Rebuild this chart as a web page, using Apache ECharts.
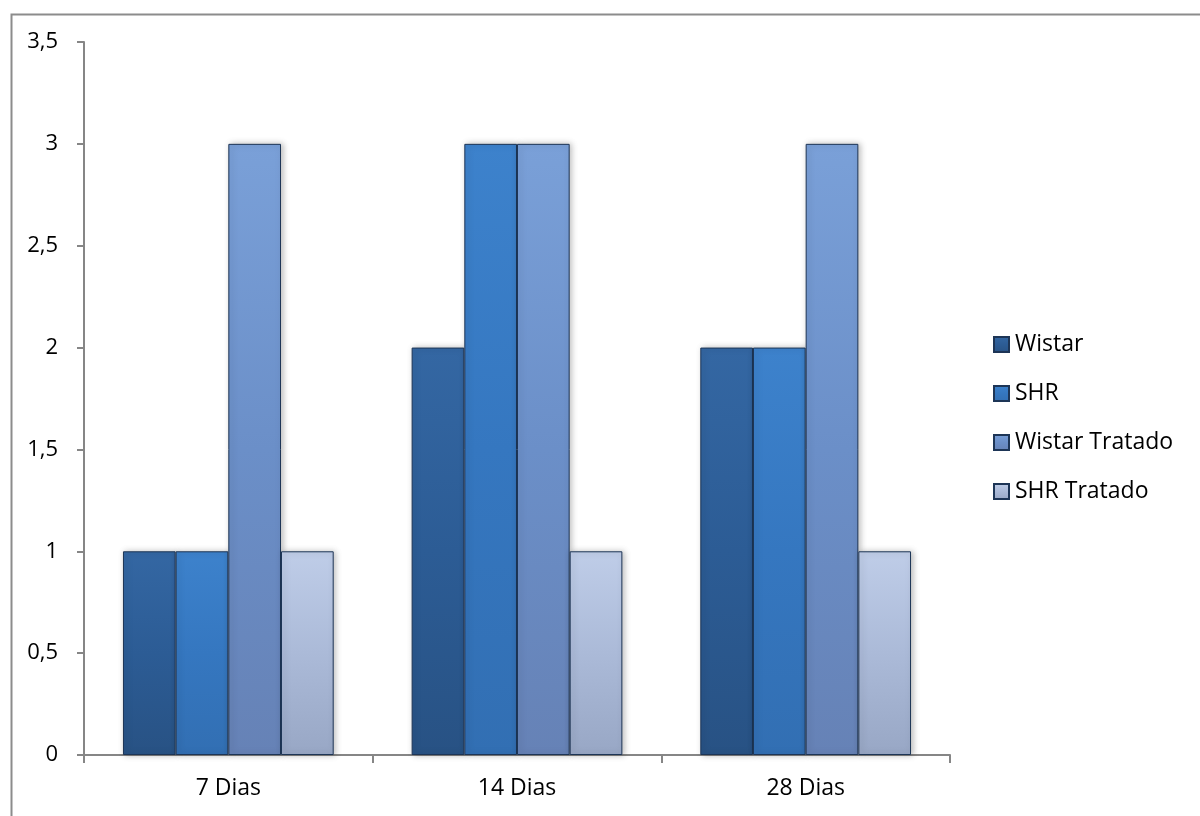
<!DOCTYPE html>
<html>
<head>
<meta charset="utf-8">
<script src="https://cdn.jsdelivr.net/npm/echarts@6/dist/echarts.min.js"></script>
<style>
html,body{margin:0;padding:0;background:#fff;}
#chart{width:1200px;height:816px;}
</style>
</head>
<body>
<div id="chart"></div>
<script>
const categories = ['7 Dias', '14 Dias', '28 Dias'];
const seriesNames = ['Wistar', 'SHR', 'Wistar Tratado', 'SHR Tratado'];
const wistar = [1, 2, 2];
const shr = [1, 3, 2];
const wistarTratado = [3, 3, 3];
const shrTratado = [1, 1, 1];
const yTicks = [0, 0.5, 1, 1.5, 2, 2.5, 3, 3.5];

const palettes = [
  ['#3467a3', '#2c5c95', '#285284'],
  ['#3d82cc', '#3577c0', '#326fb3'],
  ['#7aa0d8', '#6b8fc8', '#6682b6'],
  ['#bfcde8', '#abbad8', '#98a7c5']
];
function grad(p) {
  return new echarts.graphic.LinearGradient(0, 0, 0, 1, [
    {offset: 0, color: p[0]}, {offset: 0.5, color: p[1]}, {offset: 1, color: p[2]}
  ]);
}
const values = [wistar, shr, wistarTratado, shrTratado];
const font = 'Open Sans';

const chart = echarts.init(document.getElementById('chart'), null, {renderer: 'canvas'});
chart.setOption({
  animation: false,
  backgroundColor: '#ffffff',
  textStyle: {fontFamily: font},
  graphic: [{
    type: 'rect', left: 9, top: 12, z: -1,
    shape: {width: 1300, height: 900},
    style: {fill: 'none', stroke: '#8c8c8c', lineWidth: 2}
  }],
  grid: {left: 84, right: 250, top: 42, bottom: 61, containLabel: false},
  legend: {
    orient: 'vertical', left: 993, top: 333, padding: 0,
    itemWidth: 15, itemHeight: 15, itemGap: 26,
    icon: 'rect',
    data: seriesNames,
    textStyle: {fontFamily: font, fontSize: 23, color: '#000', lineHeight: 22, padding: [0, 0, 0, 1]}
  },
  xAxis: {
    type: 'category', data: categories,
    axisLine: {lineStyle: {color: '#868686', width: 2}},
    axisTick: {show: true, length: 8, lineStyle: {color: '#868686', width: 2}},
    axisLabel: {color: '#000', fontSize: 23, fontFamily: font, margin: 22}
  },
  yAxis: {
    type: 'value', min: yTicks[0], max: yTicks[yTicks.length - 1], interval: 0.5,
    axisLine: {show: true, lineStyle: {color: '#868686', width: 2}},
    axisTick: {show: true, length: 7, lineStyle: {color: '#868686', width: 2}},
    splitLine: {show: false},
    axisLabel: {
      color: '#000', fontSize: 22, fontFamily: font, margin: 26,
      formatter: v => String(v).replace('.', ',')
    }
  },
  series: seriesNames.map((name, i) => ({
    name: name, type: 'bar', data: values[i],
    barGap: '0%', barCategoryGap: '27%',
    itemStyle: {
      color: grad(palettes[i]),
      borderColor: '#1d3556', borderWidth: 1,
      shadowColor: 'rgba(0,0,0,0.25)', shadowBlur: 6, shadowOffsetX: 2, shadowOffsetY: 0
    }
  }))
});
</script>
</body>
</html>
